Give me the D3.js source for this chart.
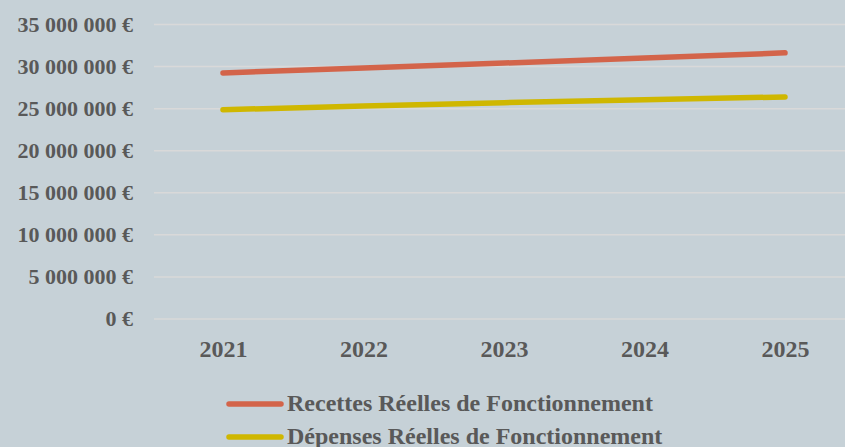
<!DOCTYPE html>
<html>
<head>
<meta charset="utf-8">
<script src="https://cdn.jsdelivr.net/npm/d3@7"></script>
<style>
  html, body { margin: 0; padding: 0; background: #c6d1d7; }
  svg { display: block; }
  text { font-family: 'Liberation Serif', 'DejaVu Serif', serif; font-weight: bold; fill: #595959; }
</style>
</head>
<body>
<div id="chart"></div>
<script>
const years = ['2021', '2022', '2023', '2024', '2025']
const recettes = [29190000, 29760000, 30360000, 30950000, 31570000]
const depenses = [24820000, 25240000, 25650000, 26010000, 26330000]
const yTicks = [0, 5000000, 10000000, 15000000, 20000000, 25000000, 30000000, 35000000]
const seriesNames = ['Recettes Réelles de Fonctionnement', 'Dépenses Réelles de Fonctionnement']
const seriesColors = ['#d3644a', '#cfb700']

const width = 845
const height = 447

const svg = d3
  .select('#chart')
  .append('svg')
  .attr('width', width)
  .attr('height', height)

svg.append('rect')
  .attr('width', width)
  .attr('height', height)
  .attr('fill', '#c6d1d7')

const xPositionScale = d3.scalePoint().domain(years).range([223, 785])
const yPositionScale = d3.scaleLinear().domain([0, 35000000]).range([318.5, 24])

// gridlines + y labels
const fmt = d => d3.format(',')(d).replace(/,/g, ' ') + ' €'

const yAxis = d3
  .axisLeft(yPositionScale)
  .tickValues(yTicks)
  .tickSize(-(width - 154))
  .tickPadding(21)
  .tickFormat(fmt)

svg
  .append('g')
  .attr('class', 'axis y-axis')
  .attr('transform', 'translate(154,0)')
  .call(yAxis)
  .call(g => g.select('.domain').remove())
  .call(g => g.selectAll('line').attr('stroke', '#d9d9d9').attr('stroke-width', 1.5))
  .call(g => g.selectAll('text')
    .attr('font-size', 22)
    .attr('font-family', null)
    .attr('fill', '#595959'))

// x labels
const xAxis = d3.axisBottom(xPositionScale).tickSize(0).tickPadding(0)
svg
  .append('g')
  .attr('class', 'axis x-axis')
  .attr('transform', 'translate(0,340)')
  .call(xAxis)
  .call(g => g.select('.domain').remove())
  .call(g => g.selectAll('text')
    .attr('font-size', 24)
    .attr('font-family', null)
    .attr('dy', '0.71em')
    .attr('fill', '#595959'))

const line = d3
  .line()
  .x((d, i) => xPositionScale(years[i]))
  .y(d => yPositionScale(d))

;[recettes, depenses].forEach((values, i) => {
  svg
    .append('path')
    .datum(values)
    .attr('d', line)
    .attr('fill', 'none')
    .attr('stroke', seriesColors[i])
    .attr('stroke-width', 5.5)
    .attr('stroke-linecap', 'round')
    .attr('stroke-linejoin', 'round')
})

// legend
const legend = svg
  .selectAll('.legend')
  .data(seriesNames)
  .enter()
  .append('g')
  .attr('class', 'legend')
  .attr('transform', (d, i) => 'translate(0,' + (404 + i * 33) + ')')

legend
  .append('line')
  .attr('x1', 229)
  .attr('x2', 281)
  .attr('stroke', (d, i) => seriesColors[i])
  .attr('stroke-width', 5.5)
  .attr('stroke-linecap', 'round')

legend
  .append('text')
  .text(d => d)
  .attr('x', 287)
  .attr('y', 7)
  .attr('font-size', 24)
</script>
</body>
</html>
